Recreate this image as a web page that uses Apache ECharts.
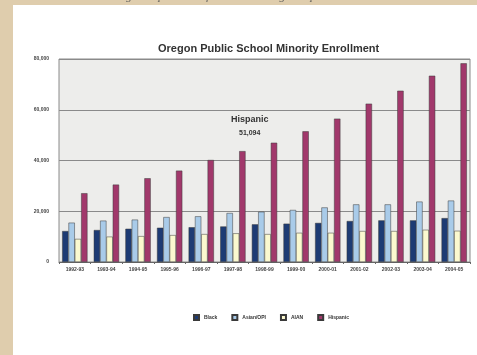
<!DOCTYPE html>
<html><head><meta charset="utf-8">
<script src="https://cdn.jsdelivr.net/npm/echarts@6/dist/echarts.min.js"></script>
<style>html,body{margin:0;padding:0;background:#dfcdad;}#c{width:477px;height:355px;}</style>
</head><body><div id="c"></div>
<script>
const categories = ['1992-93','1993-94','1994-95','1995-96','1996-97','1997-98','1998-99','1999-00','2000-01','2001-02','2002-03','2003-04','2004-05'];
const black    = [12200,12600,13100,13500,13700,14000,14850,15100,15400,16150,16400,16400,17300];
const asianOPI = [15500,16300,16700,17700,18000,19300,19800,20500,21500,22700,22700,23800,24200];
const aian     = [9100,10000,10200,10600,11000,11300,11000,11500,11500,12200,12200,12700,12300];
const hispanic = [27100,30500,33000,36000,40200,43700,47000,51500,56500,62400,67500,73400,78300];
const seriesNames = ['Black','Asian/OPI','AIAN','Hispanic'];
const yTicks = [0,20000,40000,60000,80000];

const colors = ['#1d3b74','#a9cbe9','#fbf9cf','#a1386b'];
const chart = echarts.init(document.getElementById('c'));
const dataSets = [black, asianOPI, aian, hispanic];
chart.setOption({
  animation:false,
  backgroundColor:'#dfcdad',
  title:{text:'Oregon Public School Minority Enrollment',left:153,top:38,
    textStyle:{fontFamily:'Liberation Sans',fontSize:11,fontWeight:'bold',color:'#333'}},
  graphic:[
    {type:'rect',z:-10,left:13,top:5,shape:{width:464,height:350},style:{fill:'#ffffff'}},
    {type:'text',left:'center',top:-8,style:{text:'Source: Oregon Department of Education  Oregon Report Card 2004-2005',font:'italic 11px Liberation Serif',fill:'#555'}},
    {type:'text',left:231,top:115,style:{text:'Hispanic',font:'bold 9px Liberation Sans',fill:'#333'}},
    {type:'text',left:239,top:130,style:{text:'51,094',font:'bold 7px Liberation Sans',fill:'#333'}}
  ],
  legend:{bottom:29,left:188,itemWidth:5,itemHeight:5,itemGap:14,icon:'rect',
    textStyle:{fontFamily:'Liberation Sans',fontSize:5,fontWeight:'bold',color:'#333'},
    data:seriesNames},
  grid:{left:59,right:7,top:59,bottom:93,show:true,backgroundColor:'#ededeb',borderColor:'#8a8a8a',borderWidth:1},
  xAxis:{type:'category',data:categories,
    axisLine:{lineStyle:{color:'#666'}},axisTick:{show:true,lineStyle:{color:'#666'},length:2},
    axisLabel:{fontFamily:'Liberation Sans',fontSize:5,fontWeight:'bold',color:'#444',margin:5}},
  yAxis:{type:'value',min:0,max:80000,interval:20000,
    axisLine:{show:false},axisTick:{show:false},
    splitLine:{lineStyle:{color:'#8a8a8a',width:1}},
    axisLabel:{fontFamily:'Liberation Sans',fontSize:5,fontWeight:'bold',color:'#444',margin:10,
      formatter:v=>yTicks.includes(v)?v.toLocaleString('en-US'):''}},
  series:dataSets.map((d,i)=>({name:seriesNames[i],type:'bar',data:d,barGap:'0%',barCategoryGap:'20%',
    itemStyle:{color:colors[i],borderColor:'#3a3a3a',borderWidth:0.5}}))
});
</script></body></html>
